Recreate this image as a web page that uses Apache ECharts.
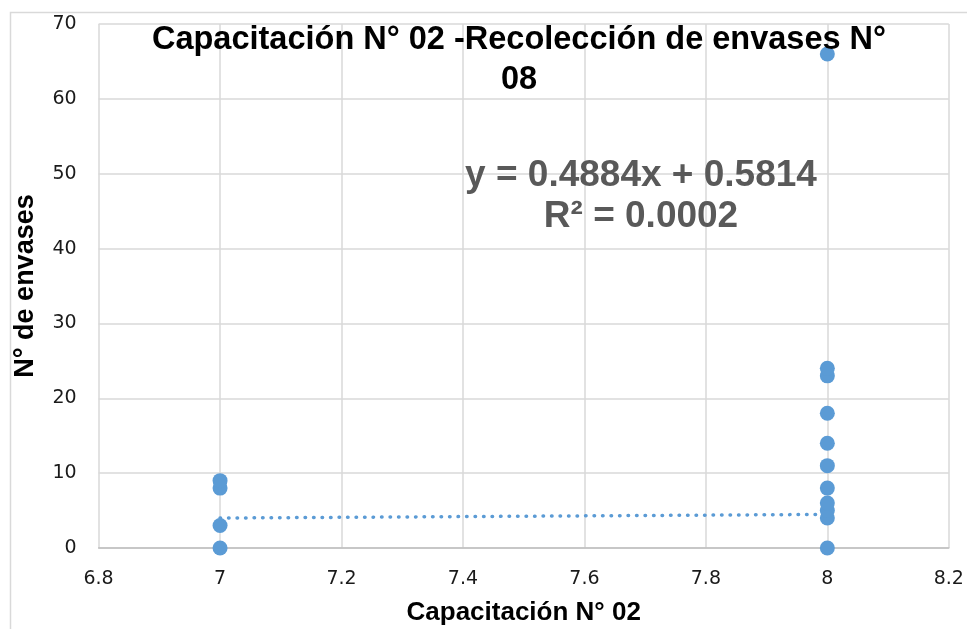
<!DOCTYPE html>
<html>
<head>
<meta charset="utf-8">
<script src="https://cdn.jsdelivr.net/npm/echarts@6/dist/echarts.min.js"></script>
<style>
  html, body { margin: 0; padding: 0; background: #fff; }
  #main { width: 967px; height: 629px; }
</style>
</head>
<body>
<div id="main"></div>
<script>
// datos
const xTicks = [6.8, 7, 7.2, 7.4, 7.6, 7.8, 8, 8.2];
const yTicks = [0, 10, 20, 30, 40, 50, 60, 70];
const envasesEn7 = [0, 3, 8, 9];
const envasesEn8 = [0, 4, 5, 6, 8, 11, 14, 18, 23, 24, 66];
// línea de tendencia (ecuación mostrada)
const pendiente = 0.4884;
const intercepto = 0.5814;
const rangoTendencia = [7, 8];

const puntos = envasesEn7.map(v => [7, v]).concat(envasesEn8.map(v => [8, v]));
const tendencia = rangoTendencia.map(x => [x, pendiente * x + intercepto]);

var myChart = echarts.init(document.getElementById('main'));
myChart.setOption({
  animation: false,
  title: {
    text: 'Capacitación N° 02 -Recolección de envases N°\n08',
    left: 514,
    top: 15,
    textAlign: 'center',
    textStyle: {
      fontFamily: 'Liberation Sans',
      fontWeight: 'bold',
      fontSize: 32.5,
      lineHeight: 40,
      color: '#000'
    }
  },
  grid: { left: 98.6, right: 18.2, top: 24, bottom: 81, containLabel: false, outerBoundsMode: 'none' },
  xAxis: {
    type: 'value',
    min: xTicks[0],
    max: xTicks[xTicks.length - 1],
    interval: 0.2,
    name: 'Capacitación N° 02',
    nameLocation: 'middle',
    nameGap: 52,
    nameTextStyle: { fontFamily: 'Liberation Sans', fontWeight: 'bold', fontSize: 26, color: '#000' },
    axisLine: { show: true, onZero: false, lineStyle: { color: '#bfbfbf', width: 1.5 } },
    axisTick: { show: false },
    splitLine: { show: true, lineStyle: { color: '#d9d9d9', width: 1.5 } },
    axisLabel: {
      margin: 22,
      fontFamily: 'DejaVu Sans',
      fontSize: 19,
      color: '#1a1a1a',
      formatter: v => String(Math.round(v * 10) / 10)
    }
  },
  yAxis: {
    type: 'value',
    min: yTicks[0],
    max: yTicks[yTicks.length - 1],
    interval: 10,
    name: 'N° de envases',
    nameLocation: 'middle',
    nameGap: 60,
    nameTextStyle: { fontFamily: 'Liberation Sans', fontWeight: 'bold', fontSize: 27, color: '#000' },
    axisLine: { show: false },
    axisTick: { show: false },
    splitLine: { show: true, lineStyle: { color: '#d9d9d9', width: 1.5 } },
    axisLabel: { margin: 22, fontFamily: 'DejaVu Sans', fontSize: 19, color: '#1a1a1a' }
  },
  graphic: [
    {
      type: 'rect',
      left: 8, top: 10,
      shape: { width: 980, height: 640 },
      style: { fill: 'none', stroke: '#d9d9d9', lineWidth: 1.5 },
      z: -1
    },
    {
      type: 'text',
      x: 641, y: 155,
      style: {
        text: 'y = 0.4884x + 0.5814\nR² = 0.0002',
        align: 'center',
        verticalAlign: 'top',
        fontFamily: 'Liberation Sans',
        fontWeight: 'bold',
        fontSize: 37,
        lineHeight: 41,
        fill: '#595959'
      },
      z: 10
    }
  ],
  series: [
    {
      name: 'Tendencia',
      type: 'line',
      data: tendencia,
      symbol: 'none',
      lineStyle: { color: '#5b9bd5', width: 3.5, type: [0.5, 8], cap: 'round' },
      z: 3
    },
    {
      name: 'Envases',
      type: 'scatter',
      data: puntos,
      symbolSize: 15,
      itemStyle: { color: '#5b9bd5', opacity: 1 },
      z: 4
    }
  ]
});
</script>
</body>
</html>
